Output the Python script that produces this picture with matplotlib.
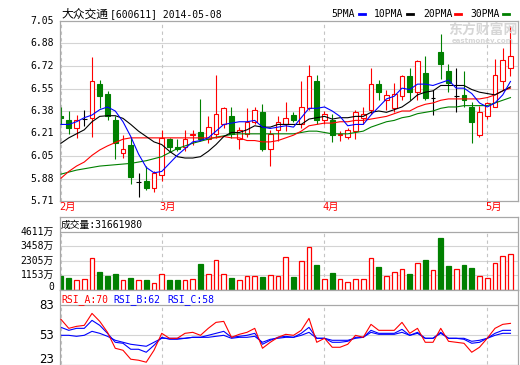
import numpy as np
import matplotlib
matplotlib.use("Agg")
import matplotlib.pyplot as plt
from matplotlib.lines import Line2D

# daily bars 2014-02-12 .. 2014-05-08
opens = [6.34, 6.31, 6.25, 6.32, 6.33, 6.58, 6.51, 6.31, 6.07, 6.13,
         5.85, 5.86, 5.81, 5.90, 6.17, 6.11, 6.11, 6.20, 6.22, 6.17,
         6.21, 6.28, 6.34, 6.17, 6.21, 6.30, 6.37, 6.10, 6.24, 6.28,
         6.35, 6.28, 6.40, 6.60, 6.31, 6.31, 6.20, 6.19, 6.23, 6.33,
         6.39, 6.58, 6.46, 6.40, 6.49, 6.64, 6.52, 6.66, 6.48, 6.82,
         6.68, 6.49, 6.50, 6.41, 6.20, 6.34, 6.41, 6.60, 6.70]
highs = [6.41, 6.38, 6.35, 6.39, 6.78, 6.61, 6.53, 6.34, 6.20, 6.18,
         5.92, 5.97, 5.93, 6.24, 6.18, 6.17, 6.24, 6.24, 6.47, 6.34,
         6.65, 6.41, 6.41, 6.26, 6.40, 6.41, 6.43, 6.24, 6.34, 6.45,
         6.37, 6.60, 6.72, 6.65, 6.38, 6.36, 6.23, 6.25, 6.39, 6.41,
         6.70, 6.61, 6.54, 6.59, 6.65, 6.70, 6.76, 6.79, 6.54, 6.95,
         6.73, 6.70, 6.68, 6.45, 6.42, 6.45, 6.77, 6.85, 7.01]
lows = [6.28, 6.21, 6.18, 6.27, 6.19, 6.40, 6.31, 6.02, 6.03, 5.84,
        5.74, 5.79, 5.78, 5.86, 6.08, 6.08, 6.08, 6.13, 6.16, 6.14,
        6.18, 6.25, 6.18, 6.10, 6.19, 6.28, 6.08, 5.97, 6.16, 6.23,
        6.30, 6.25, 6.39, 6.28, 6.28, 6.15, 6.16, 6.17, 6.17, 6.28,
        6.36, 6.46, 6.39, 6.37, 6.46, 6.46, 6.46, 6.46, 6.35, 6.62,
        6.52, 6.37, 6.41, 6.14, 6.19, 6.32, 6.41, 6.54, 6.64]
closes = [6.33, 6.25, 6.31, 6.32, 6.60, 6.49, 6.34, 6.14, 6.10, 5.89,
          5.85, 5.81, 5.92, 6.18, 6.11, 6.10, 6.17, 6.21, 6.17, 6.26,
          6.36, 6.40, 6.21, 6.24, 6.30, 6.39, 6.10, 6.21, 6.30, 6.33,
          6.31, 6.41, 6.64, 6.31, 6.36, 6.20, 6.21, 6.24, 6.37, 6.36,
          6.58, 6.52, 6.50, 6.51, 6.64, 6.52, 6.75, 6.48, 6.48, 6.73,
          6.59, 6.49, 6.46, 6.30, 6.37, 6.44, 6.65, 6.76, 6.79]

ma5 = [6.28, 6.28, 6.30, 6.33, 6.35, 6.39, 6.41, 6.38, 6.30, 6.19,
       6.06, 5.96, 5.92, 5.93, 5.99, 6.05, 6.10, 6.15, 6.16, 6.18,
       6.23, 6.28, 6.29, 6.30, 6.30, 6.31, 6.26, 6.25, 6.26, 6.27,
       6.26, 6.33, 6.40, 6.40, 6.41, 6.38, 6.34, 6.27, 6.28, 6.28,
       6.35, 6.41, 6.47, 6.49, 6.55, 6.54, 6.58, 6.58, 6.57, 6.59,
       6.61, 6.55, 6.55, 6.51, 6.44, 6.41, 6.44, 6.50, 6.60]
ma10 = [6.14, 6.18, 6.21, 6.24, 6.30, 6.34, 6.345, 6.345, 6.325, 6.28,
        6.23, 6.19, 6.15, 6.13, 6.08, 6.04, 6.03, 6.03, 6.04, 6.08,
        6.13, 6.19, 6.22, 6.22, 6.24, 6.27, 6.26, 6.26, 6.28, 6.28,
        6.28, 6.28, 6.32, 6.33, 6.34, 6.32, 6.33, 6.33, 6.34, 6.34,
        6.37, 6.38, 6.37, 6.39, 6.41, 6.45, 6.50, 6.52, 6.53, 6.57,
        6.57, 6.57, 6.57, 6.54, 6.52, 6.51, 6.50, 6.53, 6.56]
ma20 = [5.88, 5.93, 5.97, 6.00, 6.05, 6.09, 6.12, 6.145, 6.17, 6.18,
        6.18, 6.18, 6.18, 6.18, 6.18, 6.18, 6.18, 6.18, 6.18, 6.18,
        6.18, 6.19, 6.18, 6.18, 6.16, 6.16, 6.15, 6.15, 6.16, 6.18,
        6.20, 6.23, 6.27, 6.28, 6.29, 6.29, 6.30, 6.30, 6.31, 6.31,
        6.32, 6.33, 6.34, 6.36, 6.38, 6.38, 6.41, 6.43, 6.44, 6.46,
        6.47, 6.47, 6.47, 6.47, 6.47, 6.48, 6.50, 6.53, 6.55]
ma30 = [5.91, 5.925, 5.94, 5.95, 5.96, 5.97, 5.975, 5.98, 5.985, 5.99,
        6.00, 6.01, 6.025, 6.04, 6.07, 6.10, 6.12, 6.14, 6.155, 6.17,
        6.185, 6.195, 6.205, 6.21, 6.21, 6.21, 6.21, 6.21, 6.21, 6.21,
        6.21, 6.22, 6.23, 6.23, 6.22, 6.21, 6.21, 6.21, 6.22, 6.23,
        6.26, 6.28, 6.30, 6.31, 6.33, 6.34, 6.36, 6.37, 6.38, 6.40,
        6.41, 6.41, 6.42, 6.42, 6.42, 6.42, 6.44, 6.46, 6.48]

# volume in 万
volume = [1093, 937, 781, 859, 2551, 1406, 1093, 1249, 781, 937,
          781, 781, 520, 1223, 781, 781, 781, 859, 2030, 1249,
          2343, 1223, 937, 781, 1093, 1093, 1015, 1145, 1067, 2629,
          1015, 2317, 3410, 1952, 833, 1327, 833, 624, 833, 833,
          2551, 1796, 1067, 1457, 1692, 1249, 2160, 2343, 1613, 4060,
          1874, 1692, 1952, 1717, 1067, 911, 2108, 2707, 2811]

rsi_a = [69, 60, 62, 63, 75, 67, 56, 40, 38, 29,
         28, 26, 38, 55, 50, 50, 55, 56, 53, 60,
         66, 67, 51, 54, 56, 60, 40, 46, 51, 54,
         53, 58, 70, 46, 50, 41, 41, 44, 53, 51,
         64, 58, 58, 58, 66, 55, 60, 46, 46, 60,
         47, 46, 45, 36, 41, 50, 60, 64, 65]
rsi_b = [61, 58, 60, 60, 68, 63, 55, 46, 45, 39,
         39, 36, 43, 51, 49, 49, 50, 51, 51, 53,
         55, 57, 51, 52, 53, 55, 44, 48, 51, 52,
         51, 55, 61, 50, 50, 46, 46, 47, 51, 51,
         58, 55, 55, 55, 59, 53, 56, 50, 50, 56,
         50, 50, 49, 45, 46, 50, 55, 58, 58]
rsi_c = [53, 53, 52, 53, 57, 55, 52, 48, 46, 44,
         43, 42, 46, 50, 50, 50, 50, 51, 51, 51,
         52, 53, 50, 51, 51, 52, 46, 49, 50, 51,
         51, 53, 56, 50, 50, 48, 48, 48, 50, 51,
         56, 54, 54, 54, 56, 53, 55, 50, 50, 55,
         50, 50, 50, 47, 48, 50, 53, 55, 55]

month_labels = ["2月", "3月", "4月", "5月"]
month_starts = [0, 13, 34, 55]

price_labels = ["5.71", "5.88", "6.05", "6.21", "6.38", "6.55", "6.72", "6.88", "7.05"]
vol_levels = [1153, 2305, 3458, 4611]
vol_labels = ["1153万", "2305万", "3458万", "4611万"]
rsi_levels = [53, 83]

RED = "#ff0000"
GREEN = "#008000"
BLUE = "#0000ff"
EDGE = "#a8a8a8"
GRID = "#d4d4d4"
DASH = "#c4c4c4"
MONO = "DejaVu Sans Mono"
MIXED = ["DejaVu Sans Mono", "Noto Sans CJK SC"]

W, H = 520, 365
XMIN, XMAX = -0.13, 58.97


def rect(x0, y0, x1, y1):
    return [x0 / W, 1 - y1 / H, (x1 - x0) / W, (y1 - y0) / H]


def px(x, y):
    return x / W, 1 - y / H


def main():
    x = np.arange(len(closes))
    o = np.array(opens)
    c = np.array(closes)
    h = np.array(highs)
    lo = np.array(lows)
    vol = np.array(volume)

    up = c > o
    down = c < o
    flat = c == o

    fig = plt.figure(figsize=(W / 100, H / 100), dpi=100)
    fig.patch.set_facecolor("white")

    ax = fig.add_axes(rect(60, 21, 518, 201))
    axv = fig.add_axes(rect(60, 217, 518, 290))
    axr = fig.add_axes(rect(60, 290, 518, 364.5))

    for a in (ax, axv, axr):
        a.set_xlim(XMIN, XMAX)
        a.set_xticks([])
        a.set_yticks([])
        for s in a.spines.values():
            s.set_color(EDGE)
            s.set_linewidth(0.9)

    # ---- price panel ----
    price_levels = np.linspace(5.71, 7.05, 9)
    ax.set_ylim(5.71, 7.05)
    ax.hlines(price_levels[1:-1], XMIN, XMAX, color=GRID, lw=0.8, zorder=0)
    ax.vlines(month_starts, 5.71, 7.05, color=DASH, lw=0.8,
              linestyles=(0, (3, 3)), zorder=0)
    trans = ax.get_yaxis_transform()
    for v, s in zip(price_levels, price_labels):
        ax.text(-6 / 458, v, s, transform=trans, ha="right", va="center",
                fontsize=7, family=MONO)

    bw = 0.62
    ax.vlines(x[up], np.maximum(o, c)[up], h[up], color=RED, lw=0.8, zorder=2)
    ax.vlines(x[up], lo[up], np.minimum(o, c)[up], color=RED, lw=0.8, zorder=2)
    ax.bar(x[up], (c - o)[up], bottom=o[up], width=bw, facecolor="white",
           edgecolor=RED, lw=0.8, zorder=2)
    ax.vlines(x[down], lo[down], h[down], color=GREEN, lw=0.8, zorder=2)
    ax.bar(x[down], (o - c)[down], bottom=c[down], width=bw, facecolor=GREEN,
           edgecolor=GREEN, lw=0.8, zorder=2)
    ax.vlines(x[flat], lo[flat], h[flat], color="black", lw=0.8, zorder=2)
    ax.hlines(o[flat], x[flat] - bw / 2, x[flat] + bw / 2, color="black",
              lw=0.8, zorder=2)

    ax.plot(x, ma30, color=GREEN, lw=0.8, zorder=3)
    ax.plot(x, ma20, color=RED, lw=0.8, zorder=3)
    ax.plot(x, ma10, color="black", lw=0.8, zorder=3)
    ax.plot(x, ma5, color=BLUE, lw=0.8, zorder=3)

    # watermark
    fig.text(*px(483, 30), "东方财富网", ha="center", va="center", fontsize=10,
             family="Noto Sans CJK SC", weight="bold", color="#d6d6d6")
    fig.text(*px(483, 41), "eastmoney.com", ha="center", va="center",
             fontsize=5, family="DejaVu Sans", weight="bold", color="#d6d6d6")

    # title and legend
    fig.text(*px(61, 14.5), "大众交通", ha="left", va="center", fontsize=8.5,
             family="Noto Sans CJK SC")
    fig.text(*px(110, 14), "[600611] 2014-05-08", ha="left", va="center",
             fontsize=7, family=MONO)
    legend = [("5PMA", 331, 359, BLUE), ("10PMA", 374, 407, "black"),
              ("20PMA", 423, 455, RED), ("30PMA", 470, 503, GREEN)]
    for name, tx, lx, col in legend:
        fig.text(*px(tx, 14), name, ha="left", va="center", fontsize=7,
                 family=MONO)
        fig.add_artist(Line2D([lx / W, (lx + 6) / W], [1 - 14 / H] * 2,
                              color=col, lw=2))

    # month labels
    for m, s in zip(month_starts, month_labels):
        xp = 61 + 7.75 * m - 2
        fig.text(*px(xp, 206.5), s, ha="left", va="center", fontsize=7.5,
                 family=MIXED, color=RED)

    # ---- volume panel ----
    vtop = 4611 * (290 - 217) / (290 - 231.5)
    axv.set_ylim(0, vtop)
    axv.hlines(vol_levels[:-1], XMIN, XMAX, color=GRID, lw=0.8, zorder=0)
    axv.hlines(vol_levels[-1], XMIN, XMAX, color=EDGE, lw=0.9, zorder=0)
    axv.vlines(month_starts, 0, 4611, color=DASH, lw=0.8,
               linestyles=(0, (3, 3)), zorder=0)
    vup = c >= o
    axv.bar(x[vup], vol[vup], width=bw, facecolor="white", edgecolor=RED,
            lw=0.9, zorder=2)
    axv.bar(x[~vup], vol[~vup], width=bw, facecolor=GREEN, edgecolor=GREEN,
            lw=0.9, zorder=2)
    vtrans = axv.get_yaxis_transform()
    for v, s in zip(vol_levels, vol_labels):
        axv.text(-6 / 458, v, s, transform=vtrans, ha="right", va="center",
                 fontsize=7, family=MIXED)
    axv.text(-6 / 458, 240, "0", transform=vtrans, ha="right", va="center",
             fontsize=7, family=MONO)
    fig.text(*px(61, 225), "成交量:31661980", ha="left", va="center",
             fontsize=7, family=MIXED)

    # ---- RSI panel ----
    axr.set_ylim(23.7, 98.5)
    axr.hlines(rsi_levels[0], XMIN, XMAX, color=GRID, lw=0.8, zorder=0)
    axr.hlines(rsi_levels[1], XMIN, XMAX, color=EDGE, lw=0.9, zorder=0)
    axr.vlines(month_starts, 23.7, 83, color=DASH, lw=0.8,
               linestyles=(0, (3, 3)), zorder=0)
    axr.plot(x, rsi_c, color=BLUE, lw=0.8, zorder=2)
    axr.plot(x, rsi_b, color=BLUE, lw=0.8, zorder=2)
    axr.plot(x, rsi_a, color=RED, lw=0.8, zorder=3)
    rtrans = axr.get_yaxis_transform()
    for v, s in [(83, "83"), (53, "53"), (28.5, "23")]:
        axr.text(-6 / 458, v, s, transform=rtrans, ha="right", va="center",
                 fontsize=8.5, family="DejaVu Sans")
    for tx, s, col in [(61, "RSI_A:70", RED), (113, "RSI_B:62", BLUE),
                       (167, "RSI_C:58", BLUE)]:
        fig.text(*px(tx, 299.5), s, ha="left", va="center", fontsize=7,
                 family=MONO, color=col)

    fig.savefig("out.png", dpi=100, facecolor="white")


if __name__ == "__main__":
    main()
